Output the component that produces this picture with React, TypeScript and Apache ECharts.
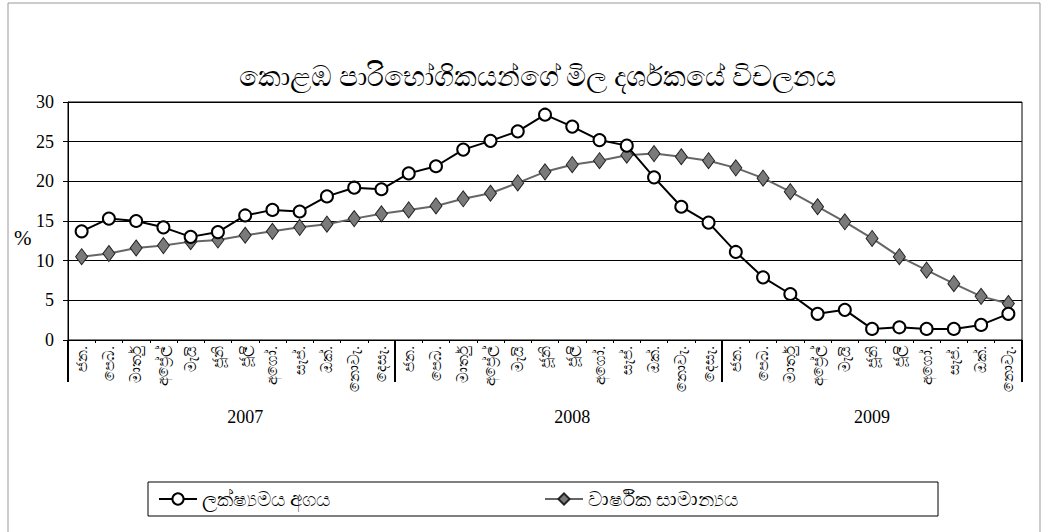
import React, { useEffect, useRef } from "react";
import * as echarts from "echarts";

const title = "කොළඹ පාරිභෝගිකයන්ගේ මිල දර්ශකයේ විචලනය";
const monthNames = ["ජන.", "පෙබ.", "මාර්තු", "අප්‍රේල්", "මැයි", "ජූනි", "ජූලි", "අගෝ.", "සැප්.", "ඔක්.", "නොවැ.", "දෙසැ."];
const months: string[] = [...monthNames, ...monthNames, ...monthNames.slice(0, 11)];
const yearLabels: { [k: number]: string } = { 6: "2007", 18: "2008", 29: "2009" };
const yearBoundaries = [0, 12, 24, 35];

const seriesPointName = "ලක්ෂ්‍යමය අගය";
const seriesAvgName = "වාර්ෂික සාමාන්‍යය";

const pointValues = [
  13.7, 15.3, 15.0, 14.2, 13.0, 13.6, 15.7, 16.4, 16.2, 18.1, 19.2, 19.0,
  21.0, 21.9, 24.0, 25.1, 26.3, 28.4, 26.9, 25.2, 24.5, 20.5, 16.8, 14.8,
  11.1, 7.9, 5.8, 3.3, 3.8, 1.4, 1.6, 1.4, 1.4, 1.9, 3.3,
];
const avgValues = [
  10.5, 10.9, 11.6, 11.9, 12.4, 12.6, 13.2, 13.7, 14.2, 14.6, 15.3, 15.9,
  16.4, 16.9, 17.8, 18.5, 19.8, 21.2, 22.1, 22.6, 23.3, 23.5, 23.1, 22.6,
  21.7, 20.4, 18.7, 16.8, 14.9, 12.8, 10.5, 8.8, 7.1, 5.5, 4.6,
];

const serif = "'Liberation Serif', 'DejaVu Serif', serif";

export default function App() {
  const ref = useRef<HTMLDivElement>(null);
  useEffect(() => {
    document.body.style.margin = "0";
    const chart = echarts.init(ref.current!, undefined, { renderer: "svg" });
    chart.setOption({
      animation: false,
      backgroundColor: "#fff",
      title: {
        text: title,
        left: 532,
        textAlign: "center",
        top: 57,
        textStyle: { fontSize: 28, fontWeight: "normal", color: "#000", fontFamily: serif },
      },
      graphic: [
        {
          type: "rect",
          shape: { x: 8, y: 3, width: 1032, height: 540 },
          style: { fill: "none", stroke: "#999", lineWidth: 1 },
          silent: true,
        },
        {
          type: "text",
          left: 14,
          top: 227,
          style: { text: "%", fontSize: 21, fontFamily: serif, fill: "#000" },
        },
      ],
      grid: { left: 68, right: 23, top: 102, bottom: 192, show: true, borderColor: "#000", borderWidth: 1 },
      legend: {
        left: 148,
        top: 482,
        padding: [7, 200, 7, 10],
        itemGap: 214,
        itemWidth: 38,
        itemHeight: 14,
        borderColor: "#000",
        borderWidth: 1,
        textStyle: { fontSize: 20, color: "#000", fontFamily: serif },
        data: [seriesPointName, seriesAvgName],
      },
      xAxis: [
        {
          type: "category",
          data: months,
          boundaryGap: true,
          axisLine: { lineStyle: { color: "#000", width: 1 } },
          axisTick: { show: true, length: 3, lineStyle: { color: "#000" } },
          axisLabel: {
            rotate: 90,
            interval: 0,
            fontSize: 15,
            margin: 6,
            color: "#000",
            fontFamily: serif,
          },
        },
        {
          type: "category",
          data: months,
          boundaryGap: true,
          position: "bottom",
          axisLine: { show: false },
          axisTick: { show: false },
          axisLabel: {
            interval: 0,
            margin: 68,
            fontSize: 18,
            color: "#000",
            fontFamily: serif,
            formatter: (_v: string, i: number) => yearLabels[i] || "",
          },
        },
        {
          type: "value",
          min: 0,
          max: months.length,
          position: "bottom",
          axisLine: { show: false },
          splitLine: { show: false },
          axisLabel: { show: false },
          axisTick: {
            show: true,
            length: 42,
            customValues: yearBoundaries,
            lineStyle: { color: "#000", width: 2 },
          },
        },
      ],
      yAxis: {
        type: "value",
        min: 0,
        max: 30,
        interval: 5,
        axisLine: { show: true, lineStyle: { color: "#000" } },
        axisTick: { show: true, length: 5, lineStyle: { color: "#000" } },
        axisLabel: { fontSize: 18, color: "#000", fontFamily: serif, margin: 14 },
        splitLine: { lineStyle: { color: "#000", width: 1 } },
      },
      series: [
        {
          name: seriesAvgName,
          type: "line",
          data: avgValues,
          symbol: "diamond",
          symbolSize: [12, 16],
          lineStyle: { color: "#666", width: 2 },
          itemStyle: { color: "#7a7a7a", borderColor: "#222", borderWidth: 1 },
          z: 2,
        },
        {
          name: seriesPointName,
          type: "line",
          data: pointValues,
          symbol: "circle",
          symbolSize: 12,
          showAllSymbol: true,
          lineStyle: { color: "#000", width: 2 },
          itemStyle: { color: "#fff", borderColor: "#000", borderWidth: 2 },
          z: 3,
        },
      ],
    });
    return () => chart.dispose();
  }, []);
  return <div ref={ref} style={{ position: "absolute", left: 0, top: 0, width: 1045, height: 532 }} />;
}
